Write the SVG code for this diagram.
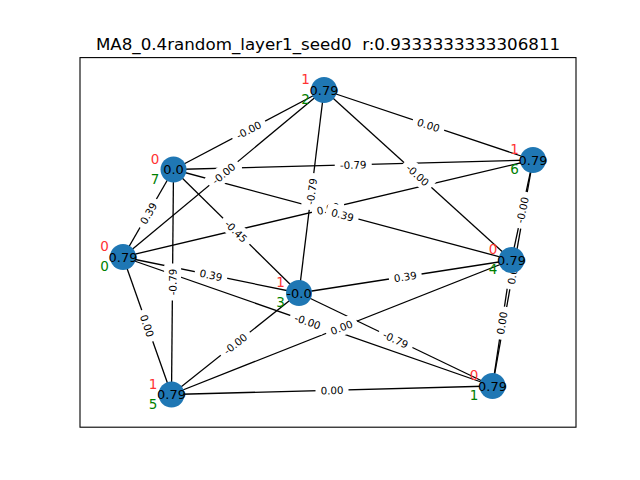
<svg xmlns="http://www.w3.org/2000/svg" width="640" height="480" viewBox="0 0 640 480">
  <style>
    text { font-family: "DejaVu Sans", "Liberation Sans", sans-serif; }
    .edge { stroke: #000; stroke-width: 1.3; fill: none; }
    .elbl text { font-size: 10.3px; fill: #000; text-anchor: middle; dominant-baseline: central; }
    .node circle { fill: #1f77b4; }
    .nval { font-size: 13px; fill: #000; text-anchor: middle; dominant-baseline: central; }
    .tag { font-size: 13.5px; text-anchor: middle; dominant-baseline: central; }
    .red { fill: #ff3333; }
    .grn { fill: #008000; }
  </style>
  <defs>
    <rect id="b4" x="-16.5" y="-8.5" width="33" height="17" rx="3" fill="#fff"/>
    <rect id="b5" x="-18.5" y="-8.5" width="37" height="17" rx="3" fill="#fff"/>
  </defs>

  <rect x="0" y="0" width="640" height="480" fill="#fff"/>
  <rect x="80" y="57.6" width="496" height="369.6" fill="none" stroke="#000" stroke-width="1.1"/>
  <text x="328" y="49.5" font-size="16.7" text-anchor="middle" fill="#000" style="white-space:pre">MA8_0.4random_layer1_seed0  r:0.9333333333306811</text>

  <!-- connectors -->
  <g id="edges">
    <line class="edge" x1="173.5" y1="169.5" x2="324" y2="90"/>
    <line class="edge" x1="324" y1="90" x2="123" y2="257"/>
    <line class="edge" x1="173.5" y1="169.5" x2="533" y2="160"/>
    <line class="edge" x1="324" y1="90" x2="299" y2="293"/>
    <line class="edge" x1="324" y1="90" x2="533" y2="160"/>
    <line class="edge" x1="324" y1="90" x2="511.5" y2="260"/>
    <line class="edge" x1="123" y1="257" x2="533" y2="160"/>
    <line class="edge" x1="173.5" y1="169.5" x2="511.5" y2="260"/>
    <line class="edge" x1="173.5" y1="169.5" x2="123" y2="257"/>
    <line class="edge" x1="173.5" y1="169.5" x2="299" y2="293"/>
    <line class="edge" x1="173.5" y1="169.5" x2="171.5" y2="394.5"/>
    <line class="edge" x1="123" y1="257" x2="299" y2="293"/>
    <line class="edge" x1="123" y1="257" x2="492.5" y2="386"/>
    <line class="edge" x1="123" y1="257" x2="171.5" y2="394.5"/>
    <line class="edge" x1="299" y1="293" x2="511.5" y2="260"/>
    <line class="edge" x1="299" y1="293" x2="492.5" y2="386"/>
    <line class="edge" x1="299" y1="293" x2="171.5" y2="394.5"/>
    <line class="edge" x1="171.5" y1="394.5" x2="511.5" y2="260"/>
    <line class="edge" x1="171.5" y1="394.5" x2="492.5" y2="386"/>
    <line class="edge" x1="533" y1="160" x2="511.5" y2="260"/>
    <line class="edge" x1="533" y1="160" x2="492.5" y2="386"/>
    <line class="edge" x1="511.5" y1="260" x2="492.5" y2="386"/>
  </g>

  <!-- connector weights -->
  <g id="edge-labels">
    <g class="elbl" transform="translate(248.75,129.75) rotate(-27.85)"><use href="#b5"/><text>-0.00</text></g>
    <g class="elbl" transform="translate(223.5,173.5) rotate(-39.7)"><use href="#b5"/><text>-0.00</text></g>
    <g class="elbl" transform="translate(353.25,164.75) rotate(-1.51)"><use href="#b5"/><text>-0.79</text></g>
    <g class="elbl" transform="translate(311.5,191.5) rotate(-82.98)"><use href="#b5"/><text>-0.79</text></g>
    <g class="elbl" transform="translate(428.5,125) rotate(18.52)"><use href="#b4"/><text>0.00</text></g>
    <g class="elbl" transform="translate(417.75,175) rotate(42.2)"><use href="#b5"/><text>-0.00</text></g>
    <g class="elbl" transform="translate(328,208.5) rotate(-13.31)"><use href="#b4"/><text>0.00</text></g>
    <g class="elbl" transform="translate(342.5,214.75) rotate(14.99)"><use href="#b4"/><text>0.39</text></g>
    <g class="elbl" transform="translate(148.25,213.25) rotate(-60)"><use href="#b4"/><text>0.39</text></g>
    <g class="elbl" transform="translate(236.25,231.25) rotate(44.54)"><use href="#b5"/><text>-0.45</text></g>
    <g class="elbl" transform="translate(172.5,282) rotate(-89.5)"><use href="#b5"/><text>-0.79</text></g>
    <g class="elbl" transform="translate(211,275) rotate(11.56)"><use href="#b4"/><text>0.39</text></g>
    <g class="elbl" transform="translate(307.75,321.5) rotate(19.24)"><use href="#b5"/><text>-0.00</text></g>
    <g class="elbl" transform="translate(147.25,325.75) rotate(70.57)"><use href="#b4"/><text>0.00</text></g>
    <g class="elbl" transform="translate(405.25,276.5) rotate(-8.83)"><use href="#b4"/><text>0.39</text></g>
    <g class="elbl" transform="translate(395.75,339.5) rotate(25.67)"><use href="#b5"/><text>-0.79</text></g>
    <g class="elbl" transform="translate(235.25,343.75) rotate(-38.47)"><use href="#b5"/><text>-0.00</text></g>
    <g class="elbl" transform="translate(341.5,327.25) rotate(-21.58)"><use href="#b4"/><text>0.00</text></g>
    <g class="elbl" transform="translate(332,390.25) rotate(-1.52)"><use href="#b4"/><text>0.00</text></g>
    <g class="elbl" transform="translate(522.25,210) rotate(-77.87)"><use href="#b5"/><text>-0.00</text></g>
    <g class="elbl" transform="translate(512.75,273) rotate(-79.84)"><use href="#b4"/><text>0.00</text></g>
    <g class="elbl" transform="translate(501.75,323) rotate(-81.43)"><use href="#b4"/><text>0.00</text></g>
  </g>

  <!-- nodes -->
  <g id="node0" class="node"><circle cx="123" cy="257" r="13"/><text class="nval" x="123" y="257">0.79</text><text class="tag red" x="104.5" y="246">0</text><text class="tag grn" x="104.5" y="266">0</text></g>
  <g id="node1" class="node"><circle cx="492.5" cy="386" r="13"/><text class="nval" x="492.5" y="386">0.79</text><text class="tag red" x="474" y="375">0</text><text class="tag grn" x="474" y="395">1</text></g>
  <g id="node2" class="node"><circle cx="324" cy="90" r="13"/><text class="nval" x="324" y="90">0.79</text><text class="tag red" x="305.5" y="79">1</text><text class="tag grn" x="305.5" y="99">2</text></g>
  <g id="node3" class="node"><circle cx="299" cy="293" r="13"/><text class="nval" x="299" y="293">-0.0</text><text class="tag red" x="280.5" y="282">1</text><text class="tag grn" x="280.5" y="302">3</text></g>
  <g id="node4" class="node"><circle cx="511.5" cy="260" r="13"/><text class="nval" x="511.5" y="260">0.79</text><text class="tag red" x="493" y="249">0</text><text class="tag grn" x="493" y="269">4</text></g>
  <g id="node5" class="node"><circle cx="171.5" cy="394.5" r="13"/><text class="nval" x="171.5" y="394.5">0.79</text><text class="tag red" x="153" y="383.5">1</text><text class="tag grn" x="153" y="403.5">5</text></g>
  <g id="node6" class="node"><circle cx="533" cy="160" r="13"/><text class="nval" x="533" y="160">0.79</text><text class="tag red" x="514.5" y="149">1</text><text class="tag grn" x="514.5" y="169">6</text></g>
  <g id="node7" class="node"><circle cx="173.5" cy="169.5" r="13"/><text class="nval" x="173.5" y="169.5">0.0</text><text class="tag red" x="155" y="158.5">0</text><text class="tag grn" x="155" y="178.5">7</text></g>
</svg>
